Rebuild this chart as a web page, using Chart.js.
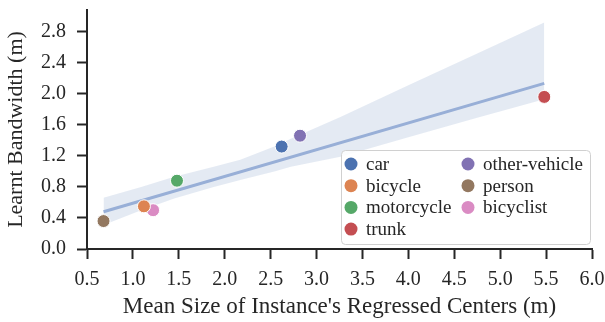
<!DOCTYPE html>
<html>
<head>
<meta charset="utf-8">
<script src="https://cdn.jsdelivr.net/npm/chart.js@4"></script>
<style>
  html, body { margin: 0; padding: 0; background: #ffffff; }
  #wrap { width: 605px; height: 322px; }
</style>
</head>
<body>
<div id="wrap"><canvas id="chart"></canvas></div>
<script>
// categories and measured values
const categories = ['car', 'bicycle', 'motorcycle', 'trunk', 'other-vehicle', 'person', 'bicyclist'];
const meanSize = [2.62, 1.12, 1.48, 5.48, 2.82, 0.68, 1.22];
const bandwidth = [1.32, 0.55, 0.88, 1.96, 1.46, 0.36, 0.50];
const colors = ['#4C72B0', '#DD8452', '#55A868', '#C44E52', '#8172B3', '#937860', '#DA8BC3'];

// regression line and its confidence band
const fitX = [0.68, 5.48];
const fitY = [0.48, 2.135];
const bandX = [0.68, 1.09, 1.45, 1.88, 2.17, 2.54, 2.72, 3.26, 4.0, 4.75, 5.48];
const bandUpper = [0.66, 0.80, 0.93, 1.06, 1.15, 1.32, 1.42, 1.70, 2.11, 2.52, 2.92];
const bandLower = [0.31, 0.50, 0.65, 0.80, 0.89, 1.00, 1.06, 1.19, 1.44, 1.69, 1.93];

const xTicks = ['0.5', '1.0', '1.5', '2.0', '2.5', '3.0', '3.5', '4.0', '4.5', '5.0', '5.5', '6.0'];
const yTicks = ['0.0', '0.4', '0.8', '1.2', '1.6', '2.0', '2.4', '2.8'];

const ink = '#262626';
const serif = "'Liberation Serif', 'Times New Roman', serif";

const pts = (xs, ys) => xs.map((x, i) => ({ x: x, y: ys[i] }));

const datasets = [
    {
        label: 'upper',
        data: pts(bandX, bandUpper),
        showLine: true,
        borderWidth: 0,
        pointRadius: 0,
        backgroundColor: 'rgba(76,114,176,0.15)',
        fill: '+1',
        order: 10
    },
    {
        label: 'lower',
        data: pts(bandX, bandLower),
        showLine: true,
        borderWidth: 0,
        pointRadius: 0,
        fill: false,
        order: 10
    },
    {
        label: 'fit',
        data: pts(fitX, fitY),
        showLine: true,
        borderColor: '#98AFD7',
        borderWidth: 3,
        pointRadius: 0,
        fill: false,
        order: 9
    }
];
categories.forEach((c, i) => {
    datasets.push({
        label: c,
        data: [{ x: meanSize[i], y: bandwidth[i] }],
        backgroundColor: colors[i],
        borderColor: '#ffffff',
        borderWidth: 1,
        pointRadius: 6.5,
        order: 1
    });
});

// two-column legend box in the lower right
const legendBox = {
    id: 'legendBox',
    afterDatasetsDraw(chart) {
        const ctx = chart.ctx;
        const a = chart.chartArea;
        const w = 249, h = 94;
        const x0 = a.right - w - 2, y0 = a.bottom - h - 5;
        ctx.save();
        ctx.beginPath();
        ctx.roundRect(x0 + 0.5, y0 + 0.5, w, h, 4);
        ctx.fillStyle = 'rgba(255,255,255,0.85)';
        ctx.fill();
        ctx.strokeStyle = '#d0d0d0';
        ctx.lineWidth = 1;
        ctx.stroke();
        ctx.font = '19px ' + serif;
        ctx.textBaseline = 'middle';
        categories.forEach((c, i) => {
            const col = i < 4 ? 0 : 1;
            const row = i < 4 ? i : i - 4;
            const mx = x0 + 10 + col * 117;
            const my = y0 + 14 + row * 21.7;
            ctx.beginPath();
            ctx.arc(mx, my, 6.5, 0, Math.PI * 2);
            ctx.fillStyle = colors[i];
            ctx.fill();
            ctx.fillStyle = ink;
            ctx.fillText(c, mx + 15, my + 1);
        });
        ctx.restore();
    }
};

new Chart(document.getElementById('chart'), {
    type: 'scatter',
    data: { datasets: datasets },
    plugins: [legendBox],
    options: {
        responsive: true,
        maintainAspectRatio: false,
        animation: false,
        events: [],
        layout: { padding: { top: 10, right: 13, left: 0, bottom: 0 } },
        plugins: {
            legend: { display: false },
            tooltip: { enabled: false }
        },
        scales: {
            x: {
                type: 'linear',
                min: 0.5,
                max: 6.0,
                afterFit(scale) {
                    scale.height = 73;
                    scale.paddingLeft = 0;
                    scale.paddingRight = 0;
                },
                afterBuildTicks(scale) {
                    scale.ticks = xTicks.map(v => ({ value: parseFloat(v) }));
                },
                ticks: {
                    autoSkip: false,
                    maxRotation: 0,
                    padding: 9,
                    color: ink,
                    font: { family: serif, size: 20 },
                    callback: (v) => v.toFixed(1)
                },
                grid: { drawOnChartArea: false, drawTicks: true, tickLength: 10, tickWidth: 2, tickColor: ink },
                border: { display: true, width: 2, color: ink },
                title: {
                    display: true,
                    text: "Mean Size of Instance's Regressed Centers (m)",
                    color: ink,
                    font: { family: serif, size: 23 },
                    padding: { top: 0, bottom: 1 }
                }
            },
            y: {
                type: 'linear',
                min: 0,
                max: 3.08,
                afterFit(scale) {
                    scale.width = 87;
                    scale.paddingTop = 0;
                    scale.paddingBottom = 0;
                },
                afterBuildTicks(scale) {
                    scale.ticks = yTicks.map(v => ({ value: parseFloat(v) }));
                },
                ticks: {
                    autoSkip: false,
                    padding: 11,
                    color: ink,
                    font: { family: serif, size: 20 },
                    callback: (v) => v.toFixed(1)
                },
                grid: { drawOnChartArea: false, drawTicks: true, tickLength: 10, tickWidth: 2, tickColor: ink },
                border: { display: true, width: 2, color: ink },
                title: {
                    display: true,
                    text: 'Learnt Bandwidth (m)',
                    color: ink,
                    font: { family: serif, size: 22 },
                    padding: { top: 3, bottom: 0 }
                }
            }
        }
    }
});
</script>
</body>
</html>
